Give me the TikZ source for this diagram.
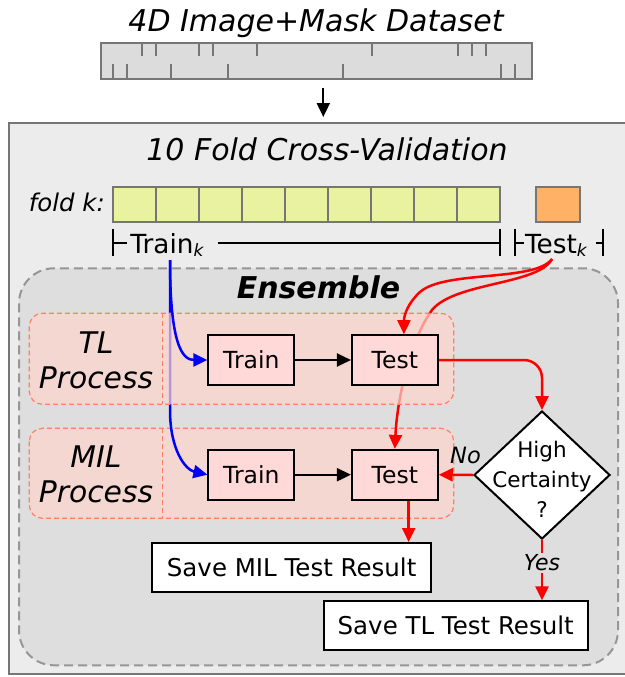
\documentclass[tikz,border=0pt]{standalone}
\usepackage{fontspec}
\setmainfont{DejaVu Sans}
\usetikzlibrary{arrows.meta,shapes.geometric,calc}

\definecolor{outerbg}{RGB}{236,236,236}
\definecolor{framegray}{RGB}{118,118,118}
\definecolor{ensbg}{RGB}{222,222,222}
\definecolor{ensline}{RGB}{150,150,150}
\definecolor{procfill}{RGB}{255,213,205}
\definecolor{procline}{RGB}{255,128,100}
\definecolor{boxfill}{RGB}{255,216,216}
\definecolor{foldgreen}{RGB}{232,242,160}
\definecolor{foldorange}{RGB}{255,178,102}
\definecolor{barfill}{RGB}{220,220,220}
\definecolor{flowred}{RGB}{255,0,0}
\definecolor{flowblue}{RGB}{0,0,255}

\newcommand\fsz[2]{\fontsize{#1}{#2}\selectfont}

\pgfdeclarelayer{background}
\pgfdeclarelayer{milback}
\pgfdeclarelayer{milflow}
\pgfdeclarelayer{tlback}
\pgfsetlayers{background,milback,milflow,tlback,main}

\tikzset{
  stepnode/.style={draw=black, line width=2pt, fill=boxfill, minimum width=85.8pt,
    minimum height=49.6pt, inner sep=0pt, font=\fsz{23.5}{28}},
  savenode/.style={draw=black, line width=2pt, fill=white, minimum height=49pt,
    inner sep=0pt, font=\fsz{24.5}{29}},
  decision/.style={diamond, draw=black, line width=2pt, fill=white,
    minimum width=136pt, minimum height=128pt, inner sep=0pt},
  foldcell/.style={draw=framegray, line width=2pt, minimum width=42.9pt,
    minimum height=35pt, inner sep=0pt},
  tick/.style={draw=framegray, line width=2pt},
  bracket/.style={draw=black, line width=1.8pt},
  tip/.style={-{Triangle[length=14pt,width=13pt]}},
  redflow/.style={draw=flowred, line width=2.5pt, tip},
  blueflow/.style={draw=flowblue, line width=2.5pt, tip},
  blackflow/.style={draw=black, line width=2pt, tip},
  procbox/.style={fill=procfill, fill opacity=0.7, draw=procline, line width=1.2pt,
    dash pattern=on 5pt off 3pt, rounded corners=13pt},
  procdiv/.style={draw=procline, line width=1.2pt, dash pattern=on 5pt off 3pt},
  title/.style={font=\fsz{30}{36}\itshape, inner sep=0pt, anchor=base},
  proclabel/.style={font=\fsz{29.8}{35.6}\itshape, align=center, inner sep=0pt},
}

\begin{document}
\begin{tikzpicture}[x=1pt,y=-1pt]
\useasboundingbox (0,0) rectangle (624,677);

% ---------- dataset bar ----------
\node[title] (dstitle) at (316,31.7) {4D Image+Mask Dataset};
\node[draw=framegray, line width=2pt, fill=barfill, minimum width=430.7pt,
      minimum height=36.3pt, inner sep=0pt] (dataset) at (316.35,60.85) {};
\foreach \x in {141.7,156,199,213,256.7,371.7,457.7,471.7,486}
  \draw[tick] (\x,42.7) -- (\x,56);
\foreach \x in {112.7,127.3,170.7,227.7,342.7,500.7,515}
  \draw[tick] (\x,79) -- (\x,64.3);

% ---------- cross-validation frame ----------
\begin{pgfonlayer}{background}
  \draw[fill=outerbg, draw=framegray, line width=2pt] (9,122.7) rectangle (640,674.3);
  \draw[fill=ensbg, draw=ensline, line width=2pt, dash pattern=on 9pt off 5pt,
        rounded corners=35pt] (19,268.3) rectangle (618,665.3);
\end{pgfonlayer}
\coordinate (cvtop) at (323.3,122.7);
\draw[blackflow, shorten <=7.7pt, shorten >=5.7pt] (dataset.south -| cvtop) -- (cvtop);

\node[title] (cvtitle) at (327,160.7) {10 Fold Cross-Validation};

% fold cells
\node[font=\fsz{24.4}{29}\itshape, inner sep=0pt, anchor=base east] (foldlbl) at (105,211.7) {fold k:};
\foreach \i in {0,...,8}
  \node[foldcell, fill=foldgreen] (cell\i) at ({113.3+42.93*(\i+0.5)},204.2) {};
\node[foldcell, fill=foldorange, minimum width=43.4pt] (celltest) at (558,204.2) {};

% train / test brackets
\node[font=\fsz{26.3}{31}, inner sep=0pt, anchor=base west] (trainlbl) at (130.2,253.3)
  {Train\raisebox{-3pt}{\fsz{17}{17}\itshape k}};
\node[font=\fsz{26.3}{31}, inner sep=0pt, anchor=base west] (testlbl) at (524.8,253.3)
  {Test\raisebox{-3pt}{\fsz{17}{17}\itshape k}};
\draw[bracket] (113.3,229.3) -- (113.3,256);
\draw[bracket] (113.3,242.7) -- (126.7,242.7);
\draw[bracket] (217.5,242.7) -- (499.7,242.7);
\draw[bracket] (499.7,229.3) -- (499.7,256);
\draw[bracket] (515.3,229.3) -- (515.3,256);
\draw[bracket] (515.3,242.7) -- (523.7,242.7);
\draw[bracket] (596,242.7) -- (603,242.7);
\draw[bracket] (603,229.3) -- (603,256);
\coordinate (trainout) at (170,260);
\coordinate (testout) at (552,259);

% ---------- ensemble ----------
\node[font=\fsz{30}{36}\bfseries\itshape, inner sep=0pt, anchor=base] (enslbl) at (318.5,298.3) {Ensemble};

\begin{pgfonlayer}{tlback}
  \draw[procbox] (29.3,313.3) rectangle (453.7,404.3);
  \draw[procdiv] (162.7,313.3) -- (162.7,404.3);
\end{pgfonlayer}
\begin{pgfonlayer}{milback}
  \draw[procbox] (29.3,428.3) rectangle (453.7,518.3);
  \draw[procdiv] (162.7,428.3) -- (162.7,518.3);
\end{pgfonlayer}

\node[proclabel] (tllbl) at (96,360.5) {TL\\Process};
\node[proclabel] (millbl) at (96,474.5) {MIL\\Process};

\node[stepnode] (TLtrain) at (251.3,360) {Train};
\node[stepnode] (TLtest) at (394.85,360) {Test};
\node[stepnode] (MILtrain) at (251.3,474.7) {Train};
\node[stepnode] (MILtest) at (394.85,474.7) {Test};

\node[decision] (hc) at (542,475) {};
\node[font=\fsz{21.5}{30}, align=center, inner sep=0pt] (hctext) at (542,479) {High\\Certainty\\?};

\node[savenode, minimum width=278.7pt] (SaveMIL) at (291.65,567.5) {Save MIL Test Result};
\node[savenode, minimum width=264pt] (SaveTL) at (455.7,625.8) {Save TL Test Result};

% ---------- connectors ----------
\begin{pgfonlayer}{milflow}
  \draw[blueflow] (trainout) -- ++(0,150) .. controls +(0,40) and +(-22,-5) .. (MILtrain.west);
  \draw[redflow] (testout) .. controls (538,285) and (455,282) .. (432,310)
        .. controls (410,340) and (397,400) .. (MILtest.north);
\end{pgfonlayer}

\draw[blueflow] (trainout) .. controls +(0,85) and +(-25,0) .. (TLtrain.west);
\draw[redflow] (testout) .. controls (535,282) and (445,270) .. (420,292)
      .. controls (408,303) and (404,315) .. ([xshift=9pt]TLtest.north);

\draw[blackflow] (TLtrain.east) -- (TLtest.west);
\draw[blackflow] (MILtrain.east) -- (MILtest.west);

\draw[redflow, rounded corners=18pt] (TLtest.east) -| (hc.north);
\draw[redflow] (hc.west) -- node[pos=0.22, anchor=base, yshift=11.7pt, inner sep=0pt,
      font=\fsz{22.5}{27}\itshape] (nolbl) {No} (MILtest.east);
\draw[redflow] (hc.south) -- node[pos=0.38, fill=ensbg, inner sep=2pt,
      font=\fsz{22}{26}\itshape] (yeslbl) {Yes} (hc.south |- SaveTL.north);
\draw[redflow] ([xshift=13.8pt]MILtest.south) -- ([xshift=13.8pt]MILtest.south |- SaveMIL.north);

\end{tikzpicture}
\end{document}
